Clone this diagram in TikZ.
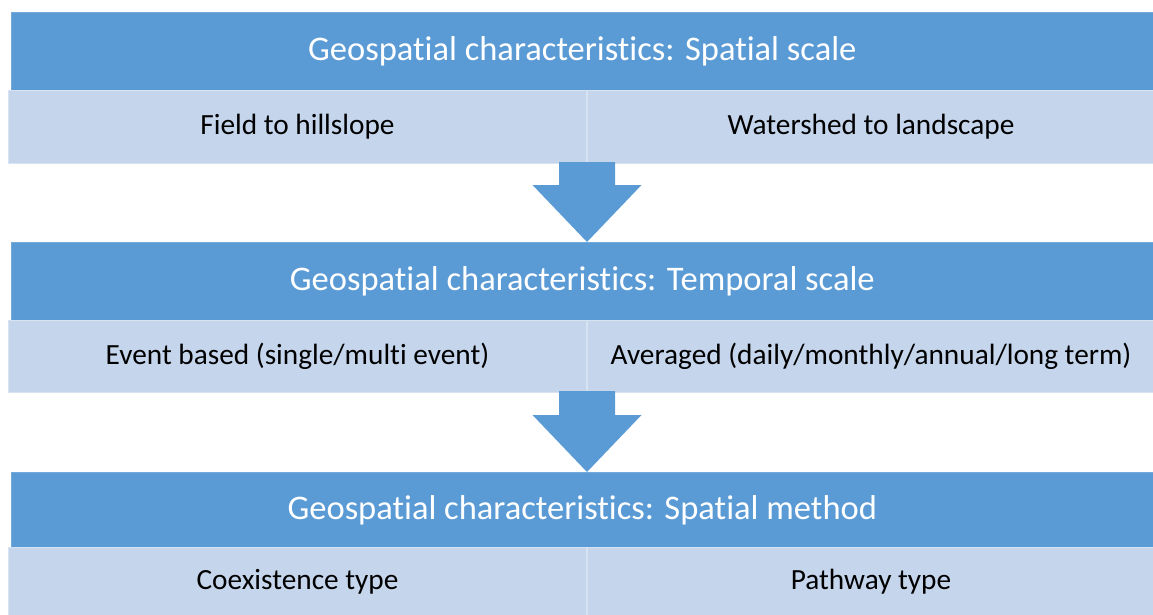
\documentclass[tikz,border=0pt]{standalone}
\usepackage{fontspec}
\setmainfont{Carlito}[Ligatures={NoCommon,NoContextual}, RawFeature={-calt}]
\usetikzlibrary{positioning}
\definecolor{hdrblue}{HTML}{5B9BD5}
\definecolor{cellblue}{HTML}{C5D5EC}
\definecolor{lineblue}{HTML}{D7E2F2}
\begin{document}
\begin{tikzpicture}[x=1pt, y=-1pt,
				header/.style={rectangle, fill=hdrblue, draw=hdrblue!85!white, line width=0.6pt, text=white, font=\fontsize{34.5}{38}\selectfont, minimum width=1142pt, inner sep=0pt, anchor=north west},
				cell/.style={rectangle, fill=cellblue, draw=lineblue, line width=1pt, font=\fontsize{29.3}{32}\selectfont, inner sep=0pt, anchor=north west},
				flow/.style={fill=hdrblue}
				]
			\useasboundingbox (0,0) rectangle (1153,614);
			% spatial scale
			\node [header, minimum height=78pt] (scale) at (11,12) {Geospatial characteristics: Spatial scale};
			\node [cell, minimum width=578pt, minimum height=73pt] (field) at (8,90) {Field to hillslope};
			\node [cell, minimum width=567pt, minimum height=73pt, right=0pt of field.north east, anchor=north west] (shed) {Watershed to landscape};
			% temporal scale
			\node [header, minimum height=78pt] (time) at (11,242) {Geospatial characteristics: Temporal scale};
			\node [cell, minimum width=578pt, minimum height=72pt] (event) at (8,320) {Event based (single/multi event)};
			\node [cell, minimum width=567pt, minimum height=72pt, right=0pt of event.north east, anchor=north west] (avg) {Averaged (daily/monthly/annual/long term)};
			% spatial method
			\node [header, minimum height=75pt] (method) at (11,472) {Geospatial characteristics: Spatial method};
			\node [cell, minimum width=578pt, minimum height=68pt] (coex) at (8,547) {Coexistence type};
			\node [cell, minimum width=567pt, minimum height=68pt, right=0pt of coex.north east, anchor=north west] (path) {Pathway type};
			% arrows
			\coordinate (tip1) at (time.north -| field.east);
			\coordinate (tip2) at (method.north -| event.east);
			\fill [flow] (tip1) -- ++(-54.5,-57) -- ++(26.5,0) -- ++(0,-23) -- ++(56,0) -- ++(0,23) -- ++(26.5,0) -- cycle;
			\fill [flow] (tip2) -- ++(-54.5,-57) -- ++(26.5,0) -- ++(0,-24) -- ++(56,0) -- ++(0,24) -- ++(26.5,0) -- cycle;
\end{tikzpicture}
\end{document}
